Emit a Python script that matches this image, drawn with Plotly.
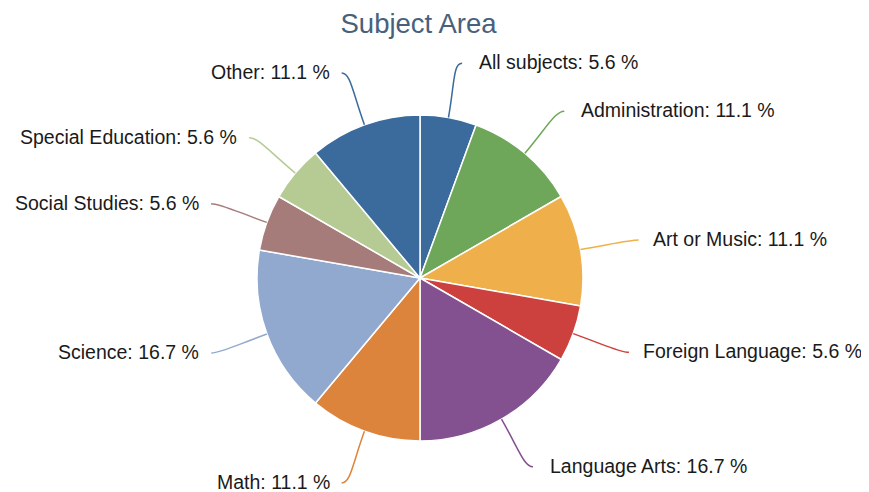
import math
import plotly.graph_objects as go

W, H = 869, 492
OFF = 8  # page body margin offset of the rendered figure

categories = ["All subjects", "Administration", "Art or Music", "Foreign Language",
              "Language Arts", "Math", "Science", "Social Studies",
              "Special Education", "Other"]
percents = [5.6, 11.1, 11.1, 5.6, 16.7, 11.1, 16.7, 5.6, 5.6, 11.1]
colors = ["#3a6b9c", "#6ea65a", "#efb04b", "#cc413d", "#845190",
          "#dd843c", "#92a9cf", "#a57c7a", "#b5cb93", "#3a6b9c"]

# pie geometry (screen pixels)
CX, CY, R = 420, 278, 163
R_END = 218


def px(x, y):
    return (x - OFF) / W, 1 - (y - OFF) / H


x0, y0 = px(CX - R, CY + R)
x1, y1 = px(CX + R, CY - R)

fig = go.Figure()
fig.add_trace(go.Pie(
    labels=categories, values=percents, sort=False, direction="clockwise",
    rotation=0, textinfo="none", hoverinfo="label+percent",
    marker=dict(colors=colors, line=dict(color="white", width=1.5)),
    domain=dict(x=[x0, x1], y=[y0, y1]),
    showlegend=False,
))

total = sum(percents)
cum = 0.0
shapes, annotations = [], []
for lab, v, c in zip(categories, percents, colors):
    mid = (cum + v / 2) / total * 2 * math.pi
    cum += v
    sx, sy = math.sin(mid), -math.cos(mid)
    side = 1 if sx >= 0 else -1
    p0 = (CX + R * sx, CY + R * sy)
    p2 = (CX + R_END * sx + side * 4, CY + R_END * sy)
    c1 = (CX + 198 * sx, CY + 198 * sy)
    c2 = (p2[0] - side * 9, p2[1])
    pts = [px(*p) for p in (p0, c1, c2, p2)]
    path = "M {:.5f},{:.5f} C {:.5f},{:.5f} {:.5f},{:.5f} {:.5f},{:.5f}".format(
        *pts[0], *pts[1], *pts[2], *pts[3])
    shapes.append(dict(type="path", path=path, xref="paper", yref="paper",
                       line=dict(color=c, width=1.5)))
    if side > 0:
        gap = 12 if p2[0] > 620 else 15
    else:
        gap = 10
    lx, ly = px(p2[0] + side * gap, p2[1] - 1)
    annotations.append(dict(
        x=lx, y=ly, xref="paper", yref="paper", showarrow=False,
        text=f"{lab}: {v} %", xanchor="left" if side > 0 else "right",
        yanchor="middle", font=dict(size=19.5, color="#1a1a1a")))

tx, ty = px(418.5, 23)
fig.update_layout(
    width=W, height=H,
    margin=dict(l=0, r=0, t=0, b=0),
    paper_bgcolor="white", plot_bgcolor="white",
    font=dict(family="Liberation Sans, Arial, sans-serif"),
    title=dict(text="Subject Area", x=tx, xanchor="center",
               y=ty, yanchor="middle",
               font=dict(size=27.5, color="#47617c")),
    shapes=shapes, annotations=annotations,
)

fig.write_html("out.html")
